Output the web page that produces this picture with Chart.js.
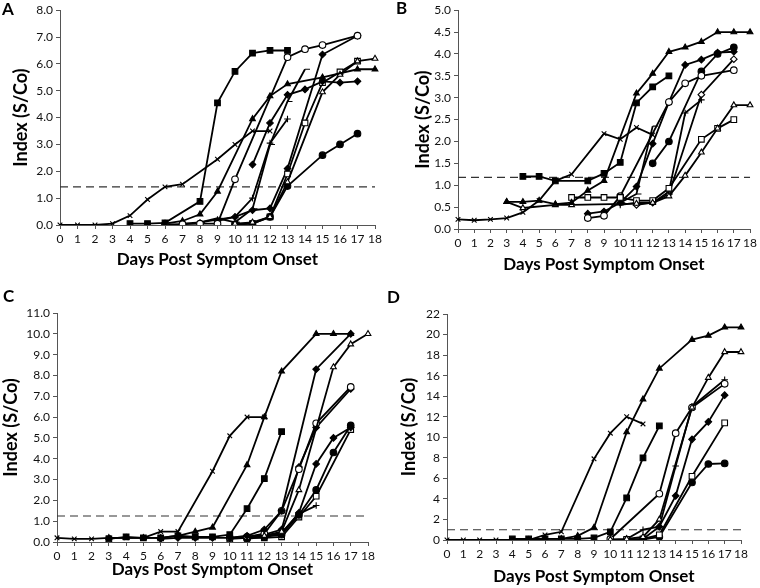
<!DOCTYPE html>
<html>
<head>
<meta charset="utf-8">
<script src="https://cdn.jsdelivr.net/npm/chart.js@4.4.0/dist/chart.umd.min.js"></script>
<style>
  body { margin: 0; background: #fff; }
  #wrap { position: relative; width: 760px; height: 588px; overflow: hidden; font-family: Lato, sans-serif; }
  canvas { position: absolute; }
  .lbl { position: absolute; font-weight: bold; font-size: 17px; color: #000; }
</style>
</head>
<body>
<div id="wrap">
  <canvas id="chartA" style="left:0;top:0"></canvas>
  <canvas id="chartB" style="left:380px;top:0"></canvas>
  <canvas id="chartC" style="left:0;top:294px"></canvas>
  <canvas id="chartD" style="left:380px;top:294px"></canvas>
  <div class="lbl" style="left:2px;top:-2px">A</div>
  <div class="lbl" style="left:396px;top:-3px">B</div>
  <div class="lbl" style="left:3px;top:285px">C</div>
  <div class="lbl" style="left:387px;top:286px">D</div>
</div>
<script>
const days = ['0','1','2','3','4','5','6','7','8','9','10','11','12','13','14','15','16','17','18'];
const _ = null;

// Panel A
const aCross   = [0,0,0,0.05,0.35,0.95,1.42,1.52,_,2.45,3.0,3.5,3.5,_,_,_,_,_,_];
const aSqFill  = [_,_,_,_,0.05,0.05,0.08,_,0.88,4.55,5.72,6.4,6.5,6.5,_,_,_,_,_];
const aCircOpen= [_,_,_,_,_,_,0.02,0.03,0.05,0.05,1.7,_,_,6.25,6.55,6.7,_,7.05,_];
const aTriFill = [_,_,_,_,_,_,0.05,0.15,0.4,1.25,_,3.95,4.8,5.25,_,5.5,_,5.8,5.8];
const aTriOpen = [_,_,_,_,_,_,_,_,_,_,0.05,0.1,0.3,1.6,_,4.95,5.6,6.1,6.2];
const aDiaFill = [_,_,_,_,_,_,_,_,_,_,_,2.25,3.8,4.85,5.05,5.35,5.3,5.35,_];
const aPlus    = [_,_,_,_,_,_,_,0.05,0.1,0.2,0.3,1.0,3.05,3.95,_,_,_,_,_];
const aDash    = [_,_,_,_,_,_,_,_,0.1,0.25,0.1,0.6,3.0,4.6,5.8,_,_,_,_];
const aCircFill= [_,_,_,_,_,_,_,_,_,_,0.02,0.05,0.3,1.45,_,2.6,3.0,3.4,_];
const aSqOpen  = [_,_,_,_,_,_,_,_,_,_,0.02,0.05,0.3,1.9,3.8,5.3,5.7,6.1,_];
const aStar    = [_,_,_,_,_,_,_,_,_,0.15,0.3,0.55,0.62,2.1,_,6.35,_,7.05,_];
const aCutoff  = 1.42;

// Panel B
const bCross   = [0.22,0.2,0.22,0.25,0.38,0.65,1.1,1.25,_,2.18,2.05,2.32,2.15,_,_,_,_,_,_];
const bSqFill  = [_,_,_,_,1.2,1.2,1.1,_,1.1,1.27,1.52,2.88,3.25,3.5,_,_,_,_,_];
const bTriFill = [_,_,_,0.62,0.62,0.65,0.57,0.6,0.88,1.1,_,3.1,3.55,4.05,4.15,4.28,4.5,4.5,4.5];
const bTriOpen = [_,_,_,0.62,0.48,_,0.55,0.55,_,_,_,0.58,0.6,0.75,1.22,1.75,2.3,2.83,2.83];
const bSqOpen  = [_,_,_,_,_,_,_,0.72,0.72,0.72,0.72,0.65,0.65,0.93,_,2.05,2.3,2.5,_];
const bCircOpen= [_,_,_,_,_,_,_,_,0.25,0.3,0.75,_,_,2.9,3.33,3.5,_,3.63,_];
const bCircFill= [_,_,_,_,_,_,_,_,_,_,_,_,1.5,2.0,_,3.6,4.0,4.15,_];
const bDiaFill = [_,_,_,_,_,_,_,_,0.35,0.4,0.6,0.97,1.95,2.9,3.75,3.87,4.03,4.05,_];
const bPlus    = [_,_,_,_,_,_,_,_,_,_,0.55,0.6,0.6,0.85,2.65,2.95,_,_,_];
const bDiaOpen = [_,_,_,_,_,_,_,_,_,_,_,0.55,0.6,0.8,_,3.07,_,3.88,_];
const bDash    = [_,_,_,_,_,_,_,_,_,_,0.6,0.8,2.35,_,_,_,_,_,_];
const bCutoff  = 1.18;

// Panel C
const cCross   = [0.2,0.15,0.15,0.2,0.2,0.2,0.5,0.5,_,3.4,5.1,6.0,6.0,_,_,_,_,_,_];
const cTriFill = [_,_,_,0.2,0.2,0.2,0.2,0.3,0.5,0.7,_,3.7,6.0,8.2,_,10.0,10.0,10.0,_];
const cSqFill  = [_,_,_,0.15,0.25,0.2,0.2,0.3,0.25,0.25,0.35,1.6,3.05,5.3,_,_,_,_,_];
const cDiaFill = [_,_,_,_,_,_,_,_,_,_,0.2,0.3,0.6,1.5,_,8.3,_,10.0,_];
const cTriOpen = [_,_,_,_,_,_,_,_,_,_,_,0.2,0.3,0.5,2.5,_,8.4,9.5,10.0];
const cCircOpen= [_,_,_,_,_,_,_,_,_,_,0.2,0.25,0.4,1.5,3.5,5.7,_,7.45,_];
const cStar    = [_,_,_,_,_,_,0.15,0.2,0.2,0.2,0.2,0.25,0.35,0.6,3.6,5.5,_,7.35,_];
const cDia2    = [_,_,_,_,_,_,_,_,_,_,_,0.2,0.3,0.4,1.4,3.75,5.0,5.5,_];
const cCircFill= [_,_,_,_,_,_,_,_,_,_,_,0.15,0.25,0.35,1.3,2.5,4.3,5.6,_];
const cSqOpen  = [_,_,_,_,_,_,_,_,_,_,0.15,0.2,0.2,0.25,1.2,2.2,_,5.4,_];
const cPlus    = [_,_,_,_,_,_,_,_,_,_,_,_,0.3,0.45,1.35,1.75,_,_,_];
const cCutoff  = 1.25;

// Panel D
const dCross   = [0,0,0,0,0,0,0.5,0.8,_,7.9,10.4,12.0,11.3,_,_,_,_,_,_];
const dTriFill = [_,_,_,_,_,0,0.1,0.1,0.4,1.2,_,10.5,13.7,16.7,_,19.5,19.9,20.7,20.7];
const dSqFill  = [_,_,_,_,0.1,0.1,0.1,0.1,0.1,0.2,0.8,4.1,8.0,11.1,_,_,_,_,_];
const dTriOpen = [_,_,_,_,_,_,_,_,_,_,0.05,0.1,0.3,2.0,_,12.9,15.8,18.3,18.3];
const dCircOpen= [_,_,_,_,_,_,_,_,_,_,0.1,_,_,4.5,10.4,12.9,_,15.2,_];
const dDiaFill = [_,_,_,_,_,_,_,_,_,_,_,_,0.1,1.3,4.3,9.8,11.5,14.1,_];
const dSqOpen  = [_,_,_,_,_,_,_,_,_,_,_,0.05,0.1,0.5,_,6.2,_,11.4,_];
const dCircFill= [_,_,_,_,_,_,_,_,_,_,_,0.05,0.05,0.3,_,5.6,7.4,7.45,_];
const dPlus    = [_,_,_,_,_,_,_,_,_,_,_,0.1,1.0,1.3,7.2,13.0,_,15.6,_];
const dCutoff  = 1.0;

function ds(data, style, open, r) {
  return {
    data: data,
    borderColor: '#000',
    borderWidth: 1.8,
    pointStyle: style,
    pointRadius: r || 3.3,
    pointBorderColor: '#000',
    pointBorderWidth: 1.1,
    pointBackgroundColor: open ? '#fff' : '#000',
    spanGaps: true,
    tension: 0
  };
}

function cutoffLine(v) {
  return {
    data: days.map(() => v),
    borderColor: '#333',
    borderWidth: 1.2,
    borderDash: [8, 5],
    pointRadius: 0,
    order: 99
  };
}

function makePanel(id, w, h, sets, cfg) {
  const el = document.getElementById(id);
  el.width = w; el.height = h;
  el.style.width = w + 'px'; el.style.height = h + 'px';
  return new Chart(el, {
    type: 'line',
    data: { labels: days, datasets: sets },
    options: {
      responsive: false,
      animation: false,
      events: [],
      layout: { padding: cfg.pad },
      plugins: { legend: { display: false }, tooltip: { enabled: false } },
      scales: {
        x: {
          offset: false,
          grid: { display: true, drawOnChartArea: false, drawTicks: true, tickLength: 4, color: '#555' },
          border: { color: '#555', width: 1 },
          ticks: { color: '#111', font: { family: 'Lato', size: 12 }, padding: 3, maxRotation: 0, autoSkip: false },
          title: { display: true, text: 'Days Post Symptom Onset', color: '#000',
                   font: { family: 'Lato', size: 17, weight: 'bold' }, padding: { top: 0, bottom: cfg.xtPad } },
          afterFit: s => { s.height = cfg.xh; }
        },
        y: {
          min: 0, max: cfg.max,
          grid: { display: true, drawOnChartArea: false, drawTicks: true, tickLength: 4, color: '#555' },
          border: { color: '#555', width: 1 },
          ticks: { stepSize: cfg.step, color: '#111', font: { family: 'Lato', size: 12 }, padding: 3,
                   callback: v => cfg.dec ? Number(v).toFixed(1) : String(v) },
          title: { display: true, text: 'Index (S/Co)', color: '#000',
                   font: { family: 'Lato', size: 18, weight: 'bold' }, padding: { top: cfg.ytPad, bottom: 0 } },
          afterFit: s => { s.width = cfg.yw; }
        }
      }
    }
  });
}

makePanel('chartA', 385, 290, [
  ds(aCross, 'crossRot', false), ds(aSqFill, 'rect', false, 4), ds(aCircOpen, 'circle', true),
  ds(aTriFill, 'triangle', false), ds(aTriOpen, 'triangle', true), ds(aDiaFill, 'rectRot', false),
  ds(aPlus, 'cross', false), ds(aDash, 'dash', false, 5), ds(aCircFill, 'circle', false),
  ds(aSqOpen, 'rect', true, 4), ds(aStar, 'rectRot', false), cutoffLine(aCutoff)
], { pad: { top: 7, right: 10, left: 0, bottom: 0 }, xh: 65, xtPad: 20, yw: 60, ytPad: 10, max: 8, step: 1, dec: true });

makePanel('chartB', 380, 290, [
  ds(bCross, 'crossRot', false), ds(bSqFill, 'rect', false, 4), ds(bTriFill, 'triangle', false),
  ds(bTriOpen, 'triangle', true), ds(bSqOpen, 'rect', true, 4), ds(bCircOpen, 'circle', true),
  ds(bCircFill, 'circle', false), ds(bDiaFill, 'rectRot', false), ds(bPlus, 'cross', false),
  ds(bDiaOpen, 'rectRot', true), ds(bDash, 'dash', false, 5), cutoffLine(bCutoff)
], { pad: { top: 10, right: 8, left: 0, bottom: 0 }, xh: 61, xtPad: 15, yw: 78, ytPad: 32, max: 5, step: 0.5, dec: true });

makePanel('chartC', 380, 294, [
  ds(cCross, 'crossRot', false), ds(cTriFill, 'triangle', false), ds(cSqFill, 'rect', false, 4),
  ds(cDiaFill, 'rectRot', false), ds(cTriOpen, 'triangle', true), ds(cCircOpen, 'circle', true),
  ds(cStar, 'rectRot', false), ds(cDia2, 'rectRot', false), ds(cCircFill, 'circle', false),
  ds(cSqOpen, 'rect', true, 4), ds(cPlus, 'cross', false), cutoffLine(cCutoff)
], { pad: { top: 19, right: 12, left: 0, bottom: 0 }, xh: 46, xtPad: 8, yw: 57, ytPad: 0, max: 11, step: 1, dec: true });

makePanel('chartD', 380, 294, [
  ds(dCross, 'crossRot', false), ds(dTriFill, 'triangle', false), ds(dSqFill, 'rect', false, 4),
  ds(dTriOpen, 'triangle', true), ds(dCircOpen, 'circle', true), ds(dDiaFill, 'rectRot', false),
  ds(dSqOpen, 'rect', true, 4), ds(dCircFill, 'circle', false), ds(dPlus, 'cross', false),
  cutoffLine(dCutoff)
], { pad: { top: 20, right: 19, left: 0, bottom: 0 }, xh: 48, xtPad: 1, yw: 67, ytPad: 18, max: 22, step: 2, dec: false });
</script>
</body>
</html>
